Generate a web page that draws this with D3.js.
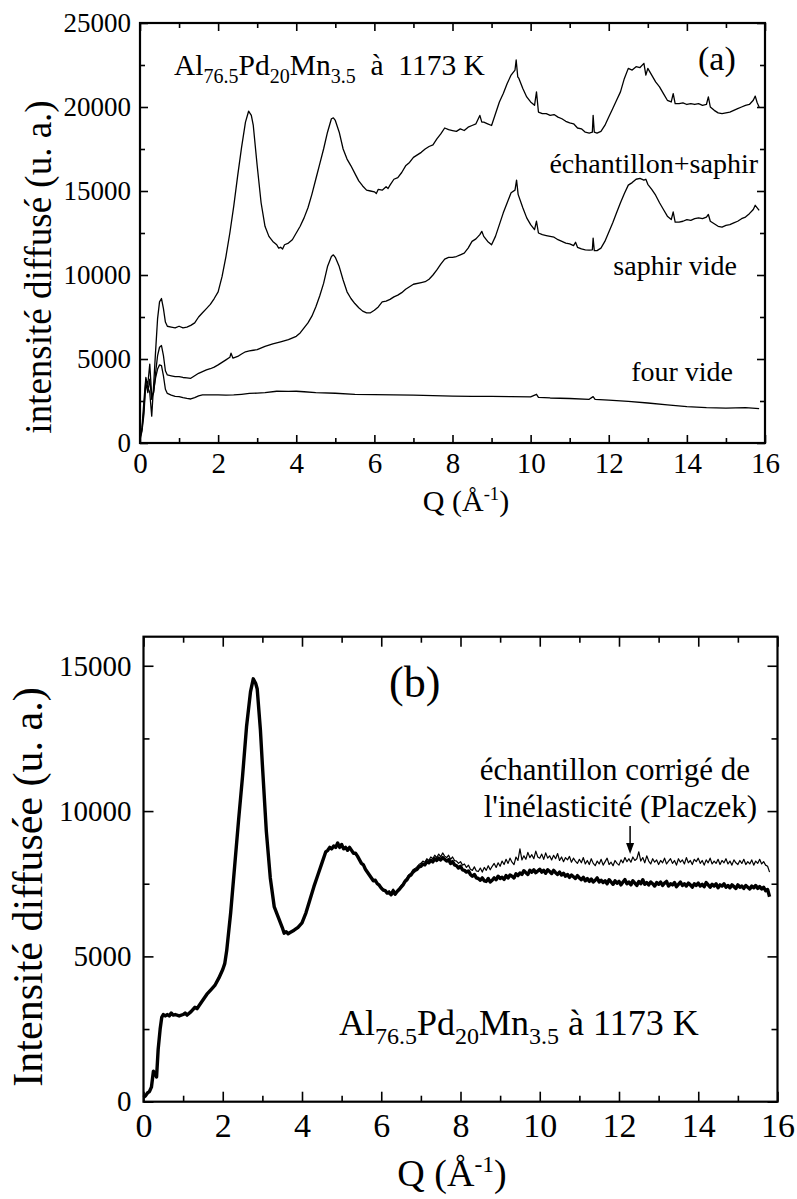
<!DOCTYPE html>
<html><head><meta charset="utf-8">
<script src="https://cdn.jsdelivr.net/npm/d3@7"></script>
<style>
body{margin:0;background:#fff}
svg{display:block}
text{font-family:"Liberation Serif","Times New Roman",serif;fill:#000}
</style>
</head><body>
<svg id="chart" width="797" height="1199"></svg>
<script>
// ---------- tick values ----------
const xTicks = [0, 2, 4, 6, 8, 10, 12, 14, 16];
const xMinorTicks = [1, 3, 5, 7, 9, 11, 13, 15];
const yTicksA = [0, 5000, 10000, 15000, 20000, 25000];
const yMinorTicksA = [2500, 7500, 12500, 17500, 22500];
const yTicksB = [0, 5000, 10000, 15000];
const yMinorTicksB = [2500, 7500, 12500];

// ---------- panel (a) series: [Q, intensity] ----------
const echantillonSaphir = [
[0,400],[0.05,900],[0.1,2500],[0.15,3900],[0.2,3300],[0.25,3000],[0.3,1600],[0.35,3500],[0.4,5500],[0.45,7400],
[0.5,8400],[0.55,8600],[0.6,8000],[0.65,7200],[0.7,6950],[0.8,6900],[0.9,6850],[1.0,6950],[1.1,6850],[1.2,6900],
[1.3,7000],[1.4,7150],[1.5,7500],[1.6,7750],[1.7,8000],[1.8,8250],[1.9,8600],[2.0,9000],[2.1,9900],[2.2,11100],
[2.3,12500],[2.4,14100],[2.5,15900],[2.6,17600],[2.7,19100],[2.78,19750],[2.85,19500],[2.9,18900],[3.0,16500],[3.1,14300],
[3.2,12900],[3.3,12300],[3.4,12000],[3.5,11800],[3.55,11600],[3.6,11650],[3.65,11550],[3.7,11800],[3.8,11900],[3.9,12100],
[4.0,12500],[4.1,12900],[4.2,13400],[4.3,14000],[4.4,14800],[4.5,15700],[4.6,16600],[4.7,17500],[4.8,18500],[4.9,19300],
[4.95,19350],[5.0,19200],[5.1,18500],[5.2,17500],[5.3,16900],[5.4,16500],[5.5,16050],[5.6,15600],[5.7,15300],[5.8,15050],
[5.9,15000],[6.0,14950],[6.05,14850],[6.1,15100],[6.2,15050],[6.3,15250],[6.35,15150],[6.4,15350],[6.5,15700],[6.6,15800],
[6.7,16100],[6.8,16500],[6.9,16700],[7.0,17000],[7.1,17150],[7.2,17300],[7.3,17500],[7.4,17650],[7.5,17750],[7.6,18100],
[7.7,18400],[7.8,18750],[7.9,18650],[8.0,18600],[8.1,18550],[8.2,18700],[8.3,18600],[8.4,18800],[8.5,18900],[8.6,19000],
[8.7,19500],[8.75,19100],[8.8,19100],[8.9,19000],[9.0,18900],[9.1,19600],[9.2,20300],[9.3,20800],[9.4,21400],[9.5,21900],
[9.6,22200],[9.63,22800],[9.67,21800],[9.7,21700],[9.8,21100],[9.9,20600],[10.0,20300],[10.1,20100],[10.15,20900],[10.2,19700],
[10.3,19600],[10.4,19600],[10.5,19500],[10.6,19550],[10.7,19400],[10.8,19300],[10.9,19150],[11.0,19050],[11.1,19000],[11.2,18750],
[11.3,18700],[11.4,18500],[11.5,18450],[11.58,18500],[11.6,19500],[11.63,18500],[11.7,18450],[11.8,18550],[11.9,18900],[12.0,19400],
[12.1,19900],[12.2,20400],[12.3,20900],[12.4,21700],[12.5,22300],[12.6,22200],[12.7,22400],[12.8,22350],[12.9,22600],[12.95,21900],
[13.0,22300],[13.1,21900],[13.2,21500],[13.3,21200],[13.4,20800],[13.5,20400],[13.6,20300],[13.65,20800],[13.7,20200],[13.8,20200],
[13.9,20250],[14.0,20150],[14.1,20200],[14.2,20150],[14.3,20200],[14.4,20100],[14.5,20150],[14.55,20600],[14.6,20000],[14.7,19800],
[14.8,19650],[14.9,19600],[15.0,19650],[15.1,19700],[15.2,19800],[15.3,19900],[15.4,20000],[15.5,20100],[15.6,20150],[15.7,20400],
[15.75,20650],[15.8,20250],[15.85,20000]
];
const saphirVide = [
[0,300],[0.05,800],[0.1,2000],[0.15,3800],[0.2,3500],[0.25,4700],[0.3,2800],[0.35,3000],[0.4,4200],[0.45,5200],
[0.5,5700],[0.55,5800],[0.6,5200],[0.65,4300],[0.7,4050],[0.8,4000],[0.9,3950],[1.0,3950],[1.1,3900],[1.2,3880],
[1.3,3850],[1.4,4000],[1.5,4150],[1.6,4250],[1.7,4350],[1.8,4420],[1.9,4520],[2.0,4650],[2.1,4800],[2.2,4950],
[2.3,5100],[2.33,5350],[2.38,5050],[2.5,5150],[2.6,5300],[2.7,5430],[2.8,5480],[2.9,5520],[3.0,5560],[3.2,5750],
[3.4,5900],[3.6,6020],[3.8,6150],[4.0,6350],[4.1,6550],[4.2,6850],[4.3,7150],[4.4,7550],[4.5,8100],[4.6,8750],
[4.7,9500],[4.8,10500],[4.9,11100],[4.95,11200],[5.0,11050],[5.1,10500],[5.2,9700],[5.3,9000],[5.4,8600],[5.5,8300],
[5.6,8050],[5.7,7850],[5.8,7750],[5.9,7750],[6.0,7900],[6.1,8100],[6.2,8400],[6.3,8450],[6.4,8550],[6.5,8700],
[6.6,8800],[6.7,8950],[6.8,9150],[6.9,9300],[7.0,9450],[7.2,9550],[7.3,9600],[7.4,9750],[7.5,10000],[7.6,10300],
[7.7,10650],[7.8,10950],[7.9,11050],[8.0,11050],[8.1,11100],[8.2,11200],[8.3,11300],[8.4,11600],[8.5,12000],[8.6,12150],
[8.7,12400],[8.75,12600],[8.8,12300],[8.9,12000],[9.0,11800],[9.1,12300],[9.2,13000],[9.3,13700],[9.4,14300],[9.5,14900],
[9.6,15050],[9.64,15650],[9.68,14800],[9.8,14000],[9.9,13400],[10.0,13000],[10.1,12700],[10.15,13200],[10.2,12500],[10.3,12400],
[10.4,12350],[10.5,12300],[10.6,12250],[10.7,12100],[10.8,12000],[10.9,11900],[11.0,11850],[11.1,11750],[11.15,11950],[11.2,11650],
[11.3,11550],[11.4,11500],[11.5,11480],[11.58,11500],[11.6,12200],[11.63,11450],[11.7,11450],[11.8,11600],[11.9,12000],[12.0,12550],
[12.1,13100],[12.2,13700],[12.3,14300],[12.4,14850],[12.5,15350],[12.6,15500],[12.7,15700],[12.8,15750],[12.9,15650],[12.95,15700],
[13.0,15400],[13.1,15100],[13.2,14750],[13.3,14300],[13.4,13900],[13.5,13500],[13.6,13300],[13.65,13750],[13.7,13150],[13.8,13150],
[13.9,13200],[14.0,13300],[14.1,13250],[14.2,13350],[14.3,13400],[14.4,13350],[14.5,13450],[14.55,13600],[14.6,13200],[14.7,13050],
[14.8,12900],[14.9,12850],[15.0,12950],[15.1,13000],[15.2,13100],[15.3,13200],[15.4,13350],[15.5,13450],[15.6,13650],[15.7,13900],
[15.75,14150],[15.85,13850]
];
const fourVide = [
[0,200],[0.05,700],[0.1,1700],[0.15,3600],[0.2,3000],[0.25,3800],[0.3,2600],[0.35,3100],[0.4,3900],[0.45,4400],
[0.5,4650],[0.55,4600],[0.6,4000],[0.65,3200],[0.7,2950],[0.8,2850],[0.9,2780],[1.0,2760],[1.1,2700],[1.2,2650],
[1.3,2620],[1.4,2700],[1.5,2800],[1.6,2860],[1.8,2870],[2.0,2860],[2.2,2850],[2.4,2860],[2.6,2900],[2.8,2950],
[3.0,2970],[3.2,3000],[3.5,3080],[3.8,3070],[4.0,3080],[4.2,3050],[4.5,3000],[5.0,2960],[5.5,2900],[6.0,2880],
[6.5,2860],[7.0,2850],[7.5,2820],[8.0,2790],[8.5,2780],[9.0,2770],[9.5,2760],[10.0,2750],[10.15,2900],[10.2,2720],
[10.5,2680],[11.0,2650],[11.5,2600],[11.6,2760],[11.65,2600],[12.0,2550],[12.5,2480],[13.0,2380],[13.5,2270],[14.0,2170],
[14.5,2100],[15.0,2080],[15.5,2100],[15.85,2050]
];

// ---------- panel (b) series ----------
const commonB = [
[0,150],[0.05,200],[0.1,300],[0.15,350],[0.2,500],[0.25,1050],[0.3,950],[0.33,850],[0.37,1800],[0.42,2500],
[0.46,2900],[0.5,3000],[0.55,2950],[0.6,3000],[0.65,2950],[0.7,3050],[0.75,2980],[0.8,3000],[0.9,2950],[1.0,3000],
[1.05,3050],[1.1,2980],[1.2,3100],[1.3,3250],[1.35,3200],[1.4,3300],[1.5,3500],[1.6,3700],[1.7,3850],[1.8,4000],
[1.9,4250],[2.0,4550],[2.05,4750],[2.1,5200],[2.2,6500],[2.3,8100],[2.4,9700],[2.5,11200],[2.6,12900],[2.7,14100],
[2.77,14550],[2.83,14400],[2.87,14200],[2.95,12800],[3.0,11600],[3.1,9300],[3.2,7700],[3.3,6700],[3.4,6350],[3.5,6000],
[3.55,5800],[3.6,5850],[3.65,5780],[3.7,5820],[3.8,5900],[3.9,6000],[4.0,6150],[4.1,6500],[4.2,6950],[4.3,7400],[4.4,7800],
[4.5,8200],[4.6,8600],[4.65,8650],[4.7,8750],[4.75,8700],[4.8,8800],[4.85,8750],[4.9,8900],[4.95,8750],[5.0,8850],[5.05,8700],
[5.1,8750],[5.15,8650],[5.2,8750],[5.3,8550],[5.35,8550],[5.4,8450],[5.5,8200],[5.55,8150],[5.6,8000],[5.7,7800],[5.8,7600],
[5.85,7620],[5.9,7500],[5.95,7450]
];
const sampleTailB = [
[6.00,7350],[6.05,7280],[6.10,7260],[6.15,7180],[6.20,7200],[6.25,7120],[6.30,7260],[6.35,7140],[6.40,7230],[6.45,7300],
[6.50,7380],[6.55,7460],[6.60,7580],[6.65,7640],[6.70,7760],[6.75,7800],[6.80,7900],[6.85,7960],[6.90,7990],[6.95,8080],
[7.00,8100],[7.05,8180],[7.10,8150],[7.15,8260],[7.20,8220],[7.25,8300],[7.30,8250],[7.35,8360],[7.40,8300],[7.45,8380],
[7.50,8320],[7.55,8400],[7.60,8340],[7.65,8280],[7.70,8330],[7.75,8200],[7.80,8260],[7.85,8150],[7.90,8120],[7.95,8040],
[8.00,8100],[8.05,7980],[8.10,7960],[8.15,7900],[8.20,7940],[8.25,7820],[8.30,7760],[8.35,7820],[8.40,7700],[8.45,7680],
[8.50,7620],[8.55,7700],[8.60,7600],[8.65,7580],[8.70,7680],[8.75,7560],[8.80,7620],[8.85,7700],[8.90,7640],[8.95,7760],
[9.00,7680],[9.05,7720],[9.10,7650],[9.15,7780],[9.20,7700],[9.25,7800],[9.30,7760],[9.35,7700],[9.40,7840],[9.45,7780],
[9.50,7870],[9.55,7820],[9.60,7950],[9.65,7880],[9.70,7820],[9.75,7960],[9.80,7900],[9.85,7980],[9.90,7880],[9.95,7940],
[10.00,8000],[10.05,7900],[10.10,7960],[10.15,7860],[10.20,7980],[10.25,7920],[10.30,7850],[10.35,7960],[10.40,7880],[10.45,7820],
[10.50,7900],[10.55,7800],[10.60,7860],[10.65,7760],[10.70,7820],[10.75,7720],[10.80,7800],[10.85,7740],[10.90,7680],[10.95,7780],
[11.00,7700],[11.05,7640],[11.10,7720],[11.15,7600],[11.20,7680],[11.25,7580],[11.30,7660],[11.35,7560],[11.40,7620],[11.45,7700],
[11.50,7560],[11.55,7620],[11.60,7540],[11.65,7600],[11.70,7500],[11.75,7640],[11.80,7560],[11.85,7480],[11.90,7600],[11.95,7520],
[12.00,7580],[12.05,7460],[12.10,7560],[12.15,7640],[12.20,7500],[12.25,7560],[12.30,7460],[12.35,7600],[12.40,7520],[12.45,7440],
[12.50,7580],[12.55,7500],[12.60,7640],[12.65,7480],[12.70,7540],[12.75,7460],[12.80,7560],[12.85,7500],[12.90,7420],[12.95,7540],
[13.00,7480],[13.05,7560],[13.10,7440],[13.15,7520],[13.20,7580],[13.25,7420],[13.30,7500],[13.35,7460],[13.40,7540],[13.45,7400],
[13.50,7480],[13.55,7560],[13.60,7440],[13.65,7500],[13.70,7420],[13.75,7520],[13.80,7460],[13.85,7380],[13.90,7500],[13.95,7440],
[14.00,7520],[14.05,7420],[14.10,7480],[14.15,7400],[14.20,7540],[14.25,7460],[14.30,7380],[14.35,7480],[14.40,7420],[14.45,7500],
[14.50,7360],[14.55,7460],[14.60,7420],[14.65,7500],[14.70,7380],[14.75,7440],[14.80,7360],[14.85,7460],[14.90,7400],[14.95,7340],
[15.00,7460],[15.05,7380],[15.10,7420],[15.15,7340],[15.20,7440],[15.25,7380],[15.30,7320],[15.35,7420],[15.40,7360],[15.45,7440],
[15.50,7340],[15.55,7400],[15.60,7320],[15.65,7380],[15.70,7260],[15.75,7300],[15.80,7050]
];
const placzekTailB = [
[6.00,7400],[6.05,7320],[6.10,7300],[6.15,7220],[6.20,7260],[6.25,7160],[6.30,7320],[6.35,7180],[6.40,7280],[6.45,7340],
[6.50,7440],[6.55,7500],[6.60,7640],[6.65,7700],[6.70,7820],[6.75,7860],[6.80,7980],[6.85,8020],[6.90,8080],[6.95,8160],
[7.00,8200],[7.05,8280],[7.10,8240],[7.15,8360],[7.20,8300],[7.25,8420],[7.30,8360],[7.35,8480],[7.40,8400],[7.45,8520],
[7.50,8430],[7.55,8560],[7.60,8450],[7.65,8400],[7.70,8480],[7.75,8340],[7.80,8420],[7.85,8300],[7.90,8280],[7.95,8200],
[8.00,8260],[8.05,8140],[8.10,8180],[8.15,8060],[8.20,8140],[8.25,8000],[8.30,7960],[8.35,8080],[8.40,7940],[8.45,7920],
[8.50,8040],[8.55,7900],[8.60,8060],[8.65,7960],[8.70,8120],[8.75,7980],[8.80,8100],[8.85,8200],[8.90,8060],[8.95,8220],
[9.00,8100],[9.05,8280],[9.10,8160],[9.15,8340],[9.20,8200],[9.25,8380],[9.30,8240],[9.35,8160],[9.40,8420],[9.45,8300],
[9.50,8700],[9.55,8320],[9.60,8460],[9.65,8340],[9.70,8580],[9.75,8400],[9.80,8500],[9.85,8360],[9.90,8620],[9.95,8420],
[10.00,8380],[10.05,8520],[10.10,8340],[10.15,8560],[10.20,8380],[10.25,8460],[10.30,8320],[10.35,8480],[10.40,8360],[10.45,8540],
[10.50,8300],[10.55,8420],[10.60,8260],[10.65,8400],[10.70,8320],[10.75,8440],[10.80,8240],[10.85,8380],[10.90,8280],[10.95,8200],
[11.00,8340],[11.05,8220],[11.10,8400],[11.15,8180],[11.20,8300],[11.25,8160],[11.30,8360],[11.35,8200],[11.40,8120],[11.45,8280],
[11.50,8180],[11.55,8340],[11.60,8140],[11.65,8260],[11.70,8380],[11.75,8160],[11.80,8240],[11.85,8120],[11.90,8300],[11.95,8200],
[12.00,8140],[12.05,8320],[12.10,8220],[12.15,8400],[12.20,8260],[12.25,8360],[12.30,8240],[12.35,8420],[12.40,8300],[12.45,8360],
[12.50,8600],[12.55,8280],[12.60,8400],[12.65,8220],[12.70,8460],[12.75,8280],[12.80,8180],[12.85,8360],[12.90,8240],[12.95,8320],
[13.00,8160],[13.05,8300],[13.10,8220],[13.15,8380],[13.20,8180],[13.25,8280],[13.30,8360],[13.35,8200],[13.40,8300],[13.45,8140],
[13.50,8360],[13.55,8240],[13.60,8320],[13.65,8180],[13.70,8400],[13.75,8220],[13.80,8300],[13.85,8160],[13.90,8340],[13.95,8260],
[14.00,8380],[14.05,8200],[14.10,8300],[14.15,8140],[14.20,8320],[14.25,8220],[14.30,8380],[14.35,8180],[14.40,8280],[14.45,8200],
[14.50,8340],[14.55,8160],[14.60,8300],[14.65,8220],[14.70,8360],[14.75,8180],[14.80,8280],[14.85,8140],[14.90,8320],[14.95,8220],
[15.00,8160],[15.05,8300],[15.10,8200],[15.15,8340],[15.20,8160],[15.25,8260],[15.30,8180],[15.35,8320],[15.40,8140],[15.45,8280],
[15.50,8200],[15.55,8340],[15.60,8180],[15.65,8260],[15.70,8140],[15.75,8100],[15.80,7900]
];

// ---------- drawing ----------
const svg = d3.select("#chart");
const FONT = '"Liberation Serif","Times New Roman",serif';

function drawPanel(cfg) {
  const x = d3.scaleLinear().domain([0, 16]).range([cfg.left, cfg.right]);
  const y = d3.scaleLinear().domain([0, cfg.yMax]).range([cfg.bottom, cfg.top]);
  const g = svg.append("g");
  const fmt = d3.format("d");

  function addAxis(axis, transform, fs, labels) {
    const a = g.append("g").attr("transform", transform).call(axis).attr("font-family", FONT);
    a.select(".domain").remove();
    a.selectAll("line").attr("stroke", "#000").attr("stroke-width", 1.6);
    a.selectAll("text").style("font-size", fs + "px").style("font-family", FONT).attr("fill", "#000");
    if (!labels) a.selectAll("text").remove();
    return a;
  }
  // bottom
  addAxis(d3.axisBottom(x).tickValues(xTicks).tickFormat(fmt).tickSize(-cfg.major).tickPadding(cfg.xPad),
          `translate(0,${cfg.bottom})`, cfg.xFs, true);
  addAxis(d3.axisBottom(x).tickValues(xMinorTicks).tickSize(-cfg.minor), `translate(0,${cfg.bottom})`, 10, false);
  // top
  addAxis(d3.axisTop(x).tickValues(xTicks).tickSize(-cfg.major), `translate(0,${cfg.top})`, 10, false);
  addAxis(d3.axisTop(x).tickValues(xMinorTicks).tickSize(-cfg.minor), `translate(0,${cfg.top})`, 10, false);
  // left
  addAxis(d3.axisLeft(y).tickValues(cfg.yTicks).tickFormat(fmt).tickSize(-cfg.major).tickPadding(cfg.yPad),
          `translate(${cfg.left},0)`, cfg.yFs, true);
  addAxis(d3.axisLeft(y).tickValues(cfg.yMinor).tickSize(-cfg.minor), `translate(${cfg.left},0)`, 10, false);
  // right
  addAxis(d3.axisRight(y).tickValues(cfg.yTicks).tickSize(-cfg.major), `translate(${cfg.right},0)`, 10, false);
  addAxis(d3.axisRight(y).tickValues(cfg.yMinor).tickSize(-cfg.minor), `translate(${cfg.right},0)`, 10, false);

  // frame
  g.append("rect").attr("x", cfg.left).attr("y", cfg.top)
    .attr("width", cfg.right - cfg.left).attr("height", cfg.bottom - cfg.top)
    .attr("fill", "none").attr("stroke", "#000").attr("stroke-width", 2.2);

  const line = d3.line().x(d => x(d[0])).y(d => y(d[1]));
  cfg.series.forEach(s => {
    g.append("path").datum(s.data).attr("d", line)
      .attr("fill", "none").attr("stroke", "#000")
      .attr("stroke-width", s.width).attr("stroke-linejoin", "round");
  });

  // x title
  const xt = g.append("text").attr("x", cfg.xTitleX).attr("y", cfg.xTitleY)
    .attr("text-anchor", "middle").style("font-size", cfg.xTitleFs + "px");
  xt.append("tspan").text("Q (Å");
  xt.append("tspan").attr("dy", -cfg.xTitleFs * 0.38).style("font-size", (cfg.xTitleFs * 0.62) + "px").text("-1");
  xt.append("tspan").attr("dy", cfg.xTitleFs * 0.38).text(")");

  // y title
  g.append("text").attr("transform", `translate(${cfg.yTitleX},${cfg.yTitleY}) rotate(-90)`)
    .attr("text-anchor", "middle").style("font-size", cfg.yTitleFs + "px").text(cfg.yTitle);
  return { x, y, g };
}

function compound(g, px, py, fs, subFs, shift, tail) {
  const t = g.append("text").attr("x", px).attr("y", py).style("font-size", fs + "px")
    .style("white-space", "pre");
  const parts = [["Al", 0], ["76.5", 1], ["Pd", 0], ["20", 1], ["Mn", 0], ["3.5", 1], [tail, 0]];
  let cur = 0;
  parts.forEach(([s, sub]) => {
    const target = sub ? shift : 0;
    t.append("tspan").attr("dy", target - cur).style("font-size", (sub ? subFs : fs) + "px").text(s);
    cur = target;
  });
}

// Panel (a)
const A = drawPanel({
  left: 140, right: 765, top: 23, bottom: 443, yMax: 25000,
  yTicks: yTicksA, yMinor: yMinorTicksA, major: 8, minor: 5,
  xFs: 29, yFs: 27, xPad: 9, yPad: 9,
  xTitleX: 466, xTitleY: 511, xTitleFs: 30,
  yTitleX: 51, yTitleY: 267, yTitleFs: 37, yTitle: "intensité diffusé (u. a.)",
  series: [
    { data: echantillonSaphir, width: 1.3 },
    { data: saphirVide, width: 1.3 },
    { data: fourVide, width: 1.3 }
  ]
});
compound(A.g, 174, 75, 29.5, 20, 8, "  à  1173 K");
A.g.append("text").attr("x", 698).attr("y", 70).style("font-size", "34px").text("(a)");
A.g.append("text").attr("x", 758).attr("y", 173).attr("text-anchor", "end").style("font-size", "28px").text("échantillon+saphir");
A.g.append("text").attr("x", 737).attr("y", 275).attr("text-anchor", "end").style("font-size", "28px").text("saphir vide");
A.g.append("text").attr("x", 733).attr("y", 381).attr("text-anchor", "end").style("font-size", "28px").text("four vide");

// Panel (b)
const B = drawPanel({
  left: 143.5, right: 777.5, top: 636.7, bottom: 1101.7, yMax: 16000,
  yTicks: yTicksB, yMinor: yMinorTicksB, major: 10, minor: 6,
  xFs: 34, yFs: 29, xPad: 11, yPad: 12,
  xTitleX: 452, xTitleY: 1186, xTitleFs: 38,
  yTitleX: 42, yTitleY: 887, yTitleFs: 42, yTitle: "Intensité diffusée (u. a.)",
  series: [
    { data: commonB.concat(placzekTailB), width: 1.2 },
    { data: commonB.concat(sampleTailB), width: 3.4 }
  ]
});
compound(B.g, 339, 1035, 36, 24, 9, " à 1173 K");
B.g.append("text").attr("x", 389).attr("y", 697).style("font-size", "44px").text("(b)");
B.g.append("text").attr("x", 750).attr("y", 780).attr("text-anchor", "end").style("font-size", "31px").text("échantillon corrigé de");
B.g.append("text").attr("x", 757).attr("y", 817).attr("text-anchor", "end").style("font-size", "31px").text("l'inélasticité (Placzek)");
// arrow
const arrowX = B.x(12.28);
B.g.append("line").attr("x1", arrowX).attr("x2", arrowX).attr("y1", 826).attr("y2", 846)
  .attr("stroke", "#000").attr("stroke-width", 1.5);
B.g.append("path").attr("d", `M${arrowX - 4},${843} L${arrowX + 4},${843} L${arrowX},${854} Z`).attr("fill", "#000");
</script>
</body></html>
